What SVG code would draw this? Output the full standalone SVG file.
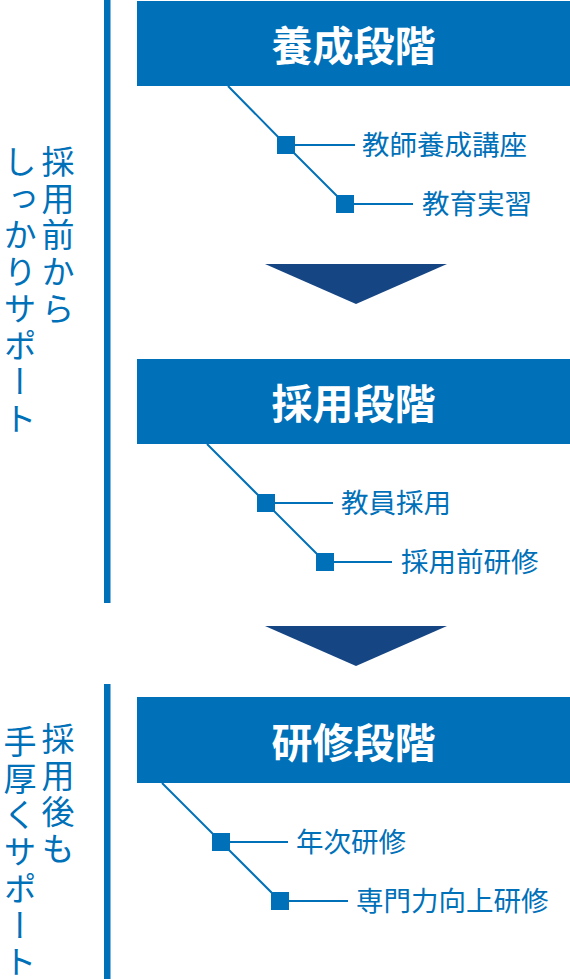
<svg xmlns="http://www.w3.org/2000/svg" width="570" height="979" viewBox="0 0 570 979">
<style>
.box{fill:#0070b8}
.title{font-family:"Noto Sans CJK JP","Noto Sans CJK SC",sans-serif;font-weight:700;font-size:41px;fill:#fff;text-anchor:middle}
.lbl{font-family:"Noto Sans CJK JP","Noto Sans CJK SC",sans-serif;font-size:27.5px;fill:#0070b8}
.vt{font-family:"Noto Sans CJK JP","Noto Sans CJK SC",sans-serif;font-size:33px;fill:#0070b8;writing-mode:vertical-rl;letter-spacing:3.7px}
.ln{stroke:#0070b8;stroke-width:2;fill:none}
.sq{fill:#0070b8}
.tri{fill:#164583}
.bar{fill:#0070b8}
</style>
<rect width="570" height="979" fill="#fff"/>
<g id="side-bars">
<rect class="bar" x="104" y="0" width="6.5" height="603"/>
<rect class="bar" x="104" y="684" width="6.5" height="295"/>
</g>
<g id="side-text-top">
<text class="vt" x="58" y="145">採用前から</text>
<text class="vt" x="20" y="145">しっかりサポート</text>
</g>
<g id="side-text-bottom">
<text class="vt" x="58" y="722">採用後も</text>
<text class="vt" x="20" y="725">手厚くサポート</text>
</g>
<g id="connectors">
<polyline class="ln" points="228,86 286,145 345,204"/>
<line class="ln" x1="286" y1="145" x2="355" y2="145"/>
<line class="ln" x1="345" y1="204" x2="413" y2="204"/>
<polyline class="ln" points="207,444 266,503 325,562"/>
<line class="ln" x1="266" y1="503" x2="333" y2="503"/>
<line class="ln" x1="325" y1="562" x2="392" y2="562"/>
<polyline class="ln" points="162,783 221,842 280,901"/>
<line class="ln" x1="221" y1="842" x2="288" y2="842"/>
<line class="ln" x1="280" y1="901" x2="348" y2="901"/>
<polygon class="tri" points="265,264 447,264 356,304"/>
<polygon class="tri" points="265,626 447,626 356,666"/>
</g>
<g id="stage1">
<rect class="box" x="137" y="1" width="433" height="85"/>
<text class="title" x="353.5" y="61">養成段階</text>
</g>
<g id="stage1-item1">
<rect class="sq" x="277" y="136" width="18" height="18"/>
<text class="lbl" x="362" y="155">教師養成講座</text>
</g>
<g id="stage1-item2">
<rect class="sq" x="336" y="195" width="18" height="18"/>
<text class="lbl" x="422" y="214">教育実習</text>
</g>
<g id="stage2">
<rect class="box" x="137" y="359" width="433" height="85"/>
<text class="title" x="353.5" y="419">採用段階</text>
</g>
<g id="stage2-item1">
<rect class="sq" x="257" y="494" width="18" height="18"/>
<text class="lbl" x="341" y="513">教員採用</text>
</g>
<g id="stage2-item2">
<rect class="sq" x="316" y="553" width="18" height="18"/>
<text class="lbl" x="401" y="572">採用前研修</text>
</g>
<g id="stage3">
<rect class="box" x="137" y="697" width="433" height="86"/>
<text class="title" x="353.5" y="758">研修段階</text>
</g>
<g id="stage3-item1">
<rect class="sq" x="212" y="833" width="18" height="18"/>
<text class="lbl" x="296" y="852">年次研修</text>
</g>
<g id="stage3-item2">
<rect class="sq" x="271" y="892" width="18" height="18"/>
<text class="lbl" x="356" y="911">専門力向上研修</text>
</g>
</svg>
